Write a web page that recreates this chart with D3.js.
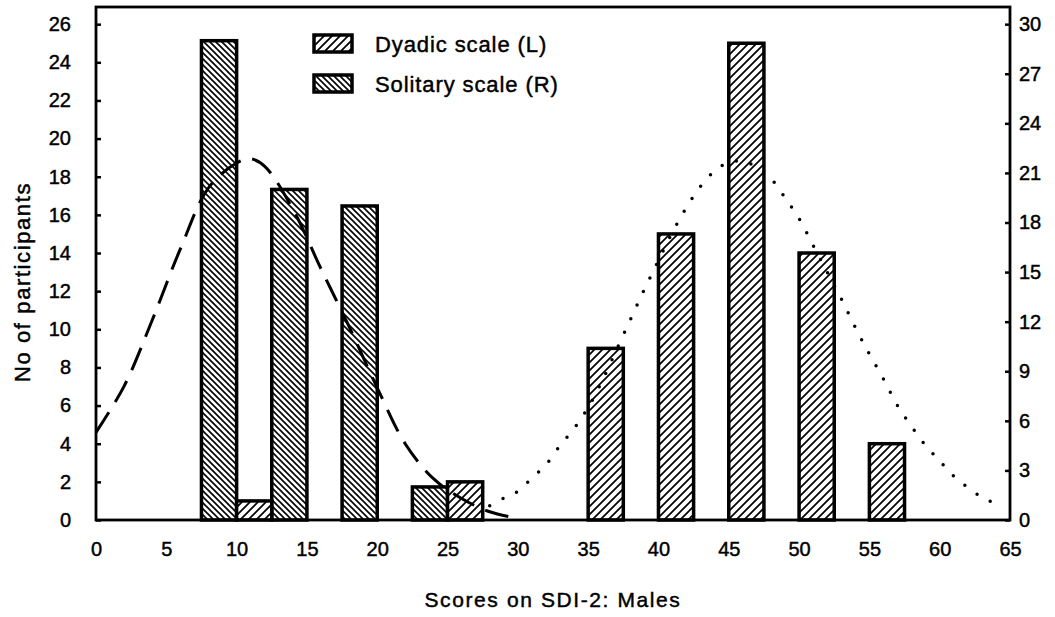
<!DOCTYPE html>
<html>
<head>
<meta charset="utf-8">
<script src="https://d3js.org/d3.v7.min.js"></script>
<style>
  body { margin: 0; background: #fff; }
  svg text { font-family: "Liberation Sans", Arial, sans-serif; fill: #000; stroke: #000; stroke-width: 0.45px; }
</style>
</head>
<body>
<svg id="chart" width="1055" height="617"></svg>
<script>
// 1: DATA
const bins = [5, 10, 15, 20, 25, 30, 35, 40, 45, 50, 55, 60, 65];
const dyadic = [0, 1, 0, 0, 2, 0, 9, 15, 25, 14, 4, 0, null];      // left scale
const solitary = [null, 29, 20, 19, 2, 0, 0, 0, 0, 0, 0, 0, 0];    // right scale

// fitted curves
const solFitScore = [0, 2, 4, 6, 8, 10, 11, 12, 14, 16, 18, 20, 22, 24, 26, 28, 30];
const solFitValue = [5.3, 8.1, 12.1, 16.4, 20.1, 21.6, 21.85, 21.4, 18.8, 15.2, 11.7, 8.0, 4.6, 2.5, 1.3, 0.5, 0.1];
const dyaFitScore = [28, 29, 30, 31, 32, 33, 34, 35, 36, 37, 38, 39, 40, 41, 42, 43, 44, 45, 46,
                     47, 48, 49, 50, 51, 52, 53, 54, 55, 56, 57, 58, 59, 60, 61, 62, 63, 64];
const dyaFitValue = [0.75, 1.15, 1.5, 2.2, 2.9, 3.9, 4.8, 5.9, 7.3, 8.9, 10.5, 12.1, 13.6, 15.1, 16.4, 17.5, 18.3, 18.75, 18.8,
                     18.5, 17.9, 16.9, 15.8, 14.4, 13.0, 11.6, 10.1, 8.7, 7.4, 6.0, 4.9, 3.9, 3.1, 2.3, 1.7, 1.2, 0.85];

const xTicks = d3.range(0, 66, 5);
const yLeftTicks = d3.range(0, 27, 2);
const yRightTicks = d3.range(0, 31, 3);

// 2: SCALES
const plot = { left: 96, right: 1010, top: 7, bottom: 520 };
const leftMax = 26.9;
const x = d3.scaleLinear().domain([0, 65]).range([plot.left, plot.right]);
const yL = d3.scaleLinear().domain([0, leftMax]).range([plot.bottom, plot.top]);
const yR = d3.scaleLinear().domain([0, leftMax * 30 / 26]).range([plot.bottom, plot.top]);

const svg = d3.select("#chart");

// hatch patterns
const defs = svg.append("defs");
const pS = defs.append("pattern").attr("id", "hatchS")
    .attr("patternUnits", "userSpaceOnUse").attr("width", 6).attr("height", 6);
pS.append("rect").attr("width", 6).attr("height", 6).attr("fill", "#fff");
pS.append("path").attr("d", "M-1,-1 L7,7 M-4,2 L4,10 M2,-4 L10,4")
    .attr("stroke", "#000").attr("stroke-width", 1.6);

const pD = defs.append("pattern").attr("id", "hatchD")
    .attr("patternUnits", "userSpaceOnUse").attr("width", 8).attr("height", 8);
pD.append("rect").attr("width", 8).attr("height", 8).attr("fill", "#fff");
pD.append("path").attr("d", "M-1,9 L9,-1 M-5,5 L5,-5 M3,13 L13,3")
    .attr("stroke", "#000").attr("stroke-width", 1.7);

// 3: BARS
const rows = bins.map((b, i) => ({ bin: b, dya: dyadic[i], sol: solitary[i] }));

svg.append("g").selectAll("rect")
    .data(rows.filter(d => d.sol !== null))
    .join("rect")
    .attr("x", d => x(d.bin - 2.5))
    .attr("width", d => x(d.bin) - x(d.bin - 2.5))
    .attr("y", d => yR(d.sol))
    .attr("height", d => yR(0) - yR(d.sol))
    .attr("fill", "url(#hatchS)")
    .attr("stroke", "#000")
    .attr("stroke-width", 3.5);

svg.append("g").selectAll("rect")
    .data(rows.filter(d => d.dya !== null))
    .join("rect")
    .attr("x", d => x(d.bin))
    .attr("width", d => x(d.bin + 2.5) - x(d.bin))
    .attr("y", d => yL(d.dya))
    .attr("height", d => yL(0) - yL(d.dya))
    .attr("fill", "url(#hatchD)")
    .attr("stroke", "#000")
    .attr("stroke-width", 3.5);

// 4: FITTED CURVES
const solLine = d3.line().curve(d3.curveCatmullRom)
    .x((d, i) => x(solFitScore[i])).y(d => yR(d));
svg.append("path")
    .attr("d", solLine(solFitValue))
    .attr("fill", "none").attr("stroke", "#000")
    .attr("stroke-width", 3)
    .attr("stroke-dasharray", "24 12");

const dyaLine = d3.line().curve(d3.curveCatmullRom)
    .x((d, i) => x(dyaFitScore[i])).y(d => yL(d));
svg.append("path")
    .attr("d", dyaLine(dyaFitValue))
    .attr("fill", "none").attr("stroke", "#000")
    .attr("stroke-width", 3.5)
    .attr("stroke-linecap", "round")
    .attr("stroke-dasharray", "0 15");

// 5: AXES + FRAME
svg.append("rect")
    .attr("x", plot.left).attr("y", plot.top)
    .attr("width", plot.right - plot.left).attr("height", plot.bottom - plot.top)
    .attr("fill", "none").attr("stroke", "#000").attr("stroke-width", 2.8);

const axL = svg.append("g")
    .attr("transform", `translate(${plot.left},0)`)
    .call(d3.axisLeft(yL).tickValues(yLeftTicks).tickSize(-5).tickPadding(25));
const axR = svg.append("g")
    .attr("transform", `translate(${plot.right},0)`)
    .call(d3.axisRight(yR).tickValues(yRightTicks).tickSize(-5).tickPadding(9).tickFormat(d3.format("d")));
const axB = svg.append("g")
    .attr("transform", `translate(0,${plot.bottom})`)
    .call(d3.axisBottom(x).tickValues(xTicks).tickSize(0).tickPadding(22));

[axL, axR, axB].forEach(g => {
    g.select(".domain").remove();
    g.selectAll(".tick line").attr("stroke", "#000").attr("stroke-width", 2.5);
    g.selectAll(".tick text").style("font-size", "20px").attr("fill", "#000");
});

// 6: LABELS
svg.append("text")
    .attr("transform", "rotate(-90)")
    .attr("x", -282).attr("y", 30)
    .attr("text-anchor", "middle")
    .style("font-size", "22px")
    .style("letter-spacing", "1.6px")
    .text("No of participants");

svg.append("text")
    .attr("x", (plot.left + plot.right) / 2).attr("y", 607)
    .attr("text-anchor", "middle")
    .style("font-size", "21px")
    .style("letter-spacing", "1.6px")
    .text("Scores on SDI-2: Males");

// legend
const legend = [
    { label: "Dyadic scale (L)", fill: "url(#hatchD)" },
    { label: "Solitary scale (R)", fill: "url(#hatchS)" }
];
legend.forEach((d, i) => {
    svg.append("rect")
        .attr("x", 314).attr("y", 35 + i * 40)
        .attr("width", 38).attr("height", 17)
        .attr("fill", d.fill)
        .attr("stroke", "#000").attr("stroke-width", 3.5);
    svg.append("text")
        .attr("x", 375).attr("y", 52 + i * 40)
        .style("font-size", "22px")
        .style("letter-spacing", "0.9px")
        .text(d.label);
});
</script>
</body>
</html>
